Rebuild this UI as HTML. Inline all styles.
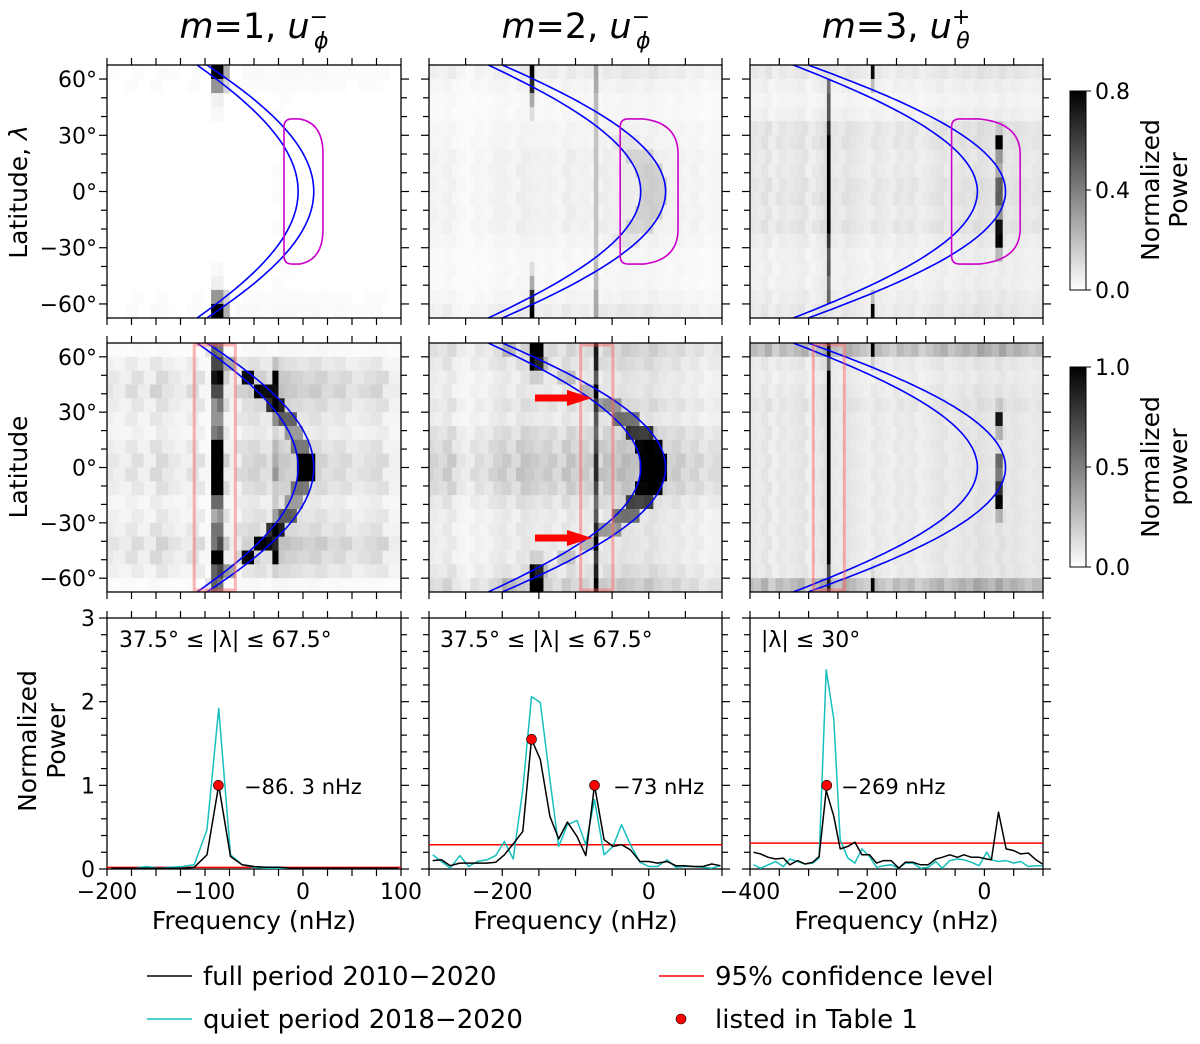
<!DOCTYPE html>
<html><head><meta charset="utf-8">
<style>
html,body{margin:0;padding:0;background:#fff;}
svg{display:block;font-family:"DejaVu Sans","Liberation Sans",sans-serif;}
</style></head>
<body>
<svg id="fig" width="1200" height="1044" viewBox="0 0 1200 1044" xmlns="http://www.w3.org/2000/svg">
</svg>
<script>
// ---------- data ----------
const latCenters = [63.75,56.25,48.75,41.25,33.75,26.25,18.75,11.25,3.75,-3.75,-11.25,-18.75,-26.25,-33.75,-41.25,-48.75,-56.25,-63.75];
const colBg1 = [0.15,0.1,0.2,0.1,0.25,0.15,0.1,0.2,0.05,0.3,0.1,0.25,0.3,0.2,0.35,0.3,0.25,0.3,0.2,0.25,0.15,0.2,0.25,0.1];
const colBg2 = [0.25,0.2,0.3,0.15,0.1,0.2,0.15,0.25,0.3,0.2,0.35,0.3,0.25,0.3,0.2,0.35,0.25,0.3,0.2,0.35,0.3,0.4,0.35,0.3,0.4,0.3,0.25,0.3,0.2,0.25,0.15,0.2];
const colBg3 = [0.3,0.25,0.35,0.2,0.3,0.25,0.3,0.35,0.2,0.3,0.4,0.3,0.25,0.35,0.3,0.25,0.2,0.3,0.25,0.2,0.3,0.25,0.3,0.2,0.25,0.3,0.35,0.25,0.3,0.35,0.3,0.4,0.35,0.3,0.4,0.3,0.35,0.3,0.25,0.3];

const rowBg_r1p1 = [0.08,0.05,0.03,0.03,0.03,0.03,0.03,0.03,0.03,0.03,0.03,0.03,0.03,0.03,0.03,0.03,0.05,0.08];
const stripe_r1p1_a = [1,0.4,0.05,0.02,0,0,0,0,0,0,0,0,0,0,0.02,0.05,0.4,1];
const stripe_r1p1_b = [0.3,0.15,0,0,0,0,0,0,0,0,0,0,0,0,0,0,0.15,0.3];
const ridge_r1p1 = [0,0,0,0,0,0,0,0,0,0,0,0,0,0,0,0,0,0];

const rowBg_r2p1 = [0.1,0.4,0.6,0.7,0.5,0.4,0.3,0.5,0.6,0.6,0.5,0.3,0.4,0.5,0.7,0.6,0.4,0.1];
const stripe_r2p1_a = [0.5,0.6,0.9,0.5,0.4,0.3,0.5,1,1,1,1,0.5,0.3,0.4,0.5,0.9,0.6,0.5];
const stripe_r2p1_b = [0,0.1,0.9,0.7,0.8,0.3,0.1,0.1,0.2,0.2,0.1,0.1,0.3,0.8,0.7,0.9,0.1,0];
const ridge_r2p1 = [0.1,0.3,0.8,0.8,0.7,0.5,0.3,0.4,0.9,0.9,0.4,0.3,0.5,0.7,0.8,0.8,0.3,0.1];

const rowBg_r1p2 = [0.25,0.15,0.1,0.1,0.15,0.15,0.2,0.2,0.2,0.2,0.2,0.2,0.15,0.1,0.1,0.1,0.15,0.25];
const stripe_r1p2_a = [1,0.8,0.3,0.1,0,0,0,0,0,0,0,0,0,0,0.1,0.3,0.8,1];
const stripe_r1p2_b = [0.3,0.3,0.25,0.25,0.2,0.2,0.2,0.2,0.2,0.2,0.2,0.2,0.2,0.2,0.25,0.25,0.3,0.3];
const ridge_r1p2 = [0,0,0,0,0,0.05,0.1,0.12,0.12,0.12,0.12,0.1,0.05,0,0,0,0,0];

const rowBg_r2p2 = [0.5,0.4,0.3,0.3,0.4,0.3,0.5,0.6,0.7,0.7,0.6,0.4,0.3,0.3,0.3,0.3,0.4,0.6];
const stripe_r2p2_a = [1,0.8,0.1,0,0,0,0,0,0,0,0,0,0,0,0,0.1,0.8,1];
const stripe_r2p2_b = [0.8,0.8,0.6,0.9,0.7,0.6,0.5,0.6,0.7,0.7,0.6,0.5,0.6,0.8,0.9,0.7,0.8,0.9];
const stripe_r2p2_c = [0.9,0.6,0.1,0,0,0,0,0,0,0,0,0,0,0,0,0.1,0.6,0.9];
const ridge_r2p2 = [0.15,0.15,0.15,0.2,0.3,0.45,0.6,0.8,0.9,0.9,0.8,0.6,0.45,0.3,0.2,0.15,0.15,0.15];

const rowBg_r1p3 = [0.3,0.2,0.15,0.2,0.35,0.35,0.3,0.3,0.35,0.35,0.3,0.35,0.25,0.2,0.2,0.2,0.25,0.3];
const stripe_r1p3_a = [0,0.5,0.6,0.6,0.7,1,1,1,1,1,1,1,0.7,0.6,0.6,0.5,0.5,0];
const stripe_r1p3_b = [0.9,0.2,0,0,0,0,0,0,0,0,0,0,0,0,0,0,0.2,0.9];
const stripe_r1p3_c = [0,0,0,0,0.1,0.9,0.3,0.2,0.5,0.5,0.3,0.8,0.9,0.2,0,0,0,0];
const ridge_r1p3 = [0,0,0,0,0,0,0,0,0,0,0,0,0,0,0,0,0,0];

const rowBg_r2p3 = [0.9,0.3,0.25,0.3,0.35,0.3,0.3,0.3,0.3,0.3,0.3,0.3,0.3,0.3,0.3,0.3,0.3,0.9];
const stripe_r2p3_a = [0.6,0.5,1,1,1,1,1,1,1,1,1,1,1,1,1,1,0.6,0.6];
const stripe_r2p3_b = [1,0.1,0,0,0,0,0,0,0,0,0,0,0,0,0,0,0.1,1];
const stripe_r2p3_c = [0,0,0,0,0.1,0.8,0.2,0,0.5,0.4,0.7,0.9,0.2,0,0,0,0,0];
const ridge_r2p3 = [0,0,0,0,0,0,0,0,0,0,0,0,0,0,0,0,0,0];

// curve params f = a + b*cos(lat)
const curveOuterA = [-165.7,-338,-510];
const curveOuterB = [176.7,361,546];
const curveInnerA = [-172,-348,-521];
const curveInnerB = [167,337,509];

// bottom spectra
const freqs1 = [-196,-184,-172,-160,-147,-135,-123,-111,-98,-86,-74,-62,-50,-37,-25,-13,-1,11,23,36,48,60,72,84,97];
const full1 = [0.01,0.01,0.01,0.01,0.01,0.01,0.01,0.02,0.17,1.0,0.15,0.05,0.03,0.02,0.02,0.01,0.01,0.01,0.01,0.01,0.01,0.01,0.01,0.01,0.01];
const quiet1 = [0.01,0.01,0.01,0.03,0.01,0.02,0.03,0.05,0.47,1.92,0.17,0.05,0.02,0.01,0.01,0.01,0.01,0.01,0.01,0.01,0.01,0.01,0.01,0.01,0.01];
const conf1 = 0.02;
const peaksF1 = [-86.3]; const peaksP1 = [1.0];

const freqs2 = [-295,-283,-271,-258,-246,-234,-221,-209,-197,-185,-172,-160,-148,-135,-123,-111,-98,-86,-74,-61,-49,-37,-25,-12,0,12,25,37,49,61,74,86,98];
const full2 = [0.10,0.11,0.04,0.07,0.07,0.07,0.07,0.08,0.17,0.30,0.45,1.55,1.31,0.63,0.36,0.56,0.39,0.16,1.0,0.35,0.27,0.29,0.23,0.09,0.09,0.07,0.09,0.04,0.04,0.03,0.03,0.06,0.04];
const quiet2 = [0.17,0.09,0.01,0.16,0.03,0.09,0.11,0.16,0.33,0.12,0.95,2.06,1.99,1.07,0.27,0.53,0.58,0.29,0.83,0.17,0.27,0.53,0.29,0.08,0.03,0.03,0.11,0.02,0.03,0.03,0.02,0.01,0.04];
const conf2 = 0.29;
const peaksF2 = [-160,-74]; const peaksP2 = [1.55,1.0];

const freqs3 = [-394,-382,-369,-356,-343,-332,-319,-306,-293,-282,-270,-257,-246,-233,-221,-209,-196,-184,-172,-159,-146,-135,-122,-109,-96,-83,-72,-59,-46,-35,-22,-9,4,12,24,37,50,62,75,88,99];
const full3 = [0.2,0.18,0.14,0.12,0.13,0.05,0.1,0.06,0.08,0.15,0.94,0.63,0.24,0.27,0.32,0.17,0.17,0.07,0.1,0.1,0.01,0.08,0.08,0.05,0.05,0.12,0.14,0.17,0.14,0.17,0.14,0.14,0.12,0.11,0.68,0.24,0.22,0.18,0.19,0.11,0.06];
const quiet3 = [0.05,0.01,0.05,0.09,0.03,0.12,0.09,0.06,0.07,0.13,2.38,1.79,0.35,0.13,0.07,0.24,0.15,0.02,0.04,0.05,0.01,0.07,0.07,0.01,0.02,0.09,0.01,0.1,0.12,0.11,0.08,0.04,0.2,0.11,0.09,0.1,0.07,0.09,0.03,0.04,0.04];
const conf3 = 0.31;
const peaksF3 = [-269]; const peaksP3 = [1.0];

// ---------- layout ----------
const NS = "http://www.w3.org/2000/svg";
const svg = document.getElementById('fig');
const cols = [{x0:107,x1:401,fmin:-200,fmax:100},{x0:429,x1:722,fmin:-300,fmax:100},{x0:750,x1:1043,fmin:-400,fmax:100}];
const rowsY = [{y0:65,y1:318},{y0:343,y1:592}];
const r3 = {y0:618,y1:869,vmax:3};
function el(tag, attrs, parent){const e=document.createElementNS(NS,tag);for(const k in attrs)e.setAttribute(k,attrs[k]);(parent||svg).appendChild(e);return e;}
function fx(p,f){return p.x0+(f-p.fmin)/(p.fmax-p.fmin)*(p.x1-p.x0);}
function ly(r,lat){return r.y0+(67.5-lat)/135*(r.y1-r.y0);}
function py(v){return r3.y1-v/r3.vmax*(r3.y1-r3.y0);}

// ---------- heatmaps ----------
const heatCfg = [
 [{bg:rowBg_r1p1,col:colBg1,stripes:[[-87,stripe_r1p1_a],[-80,stripe_r1p1_b]],ridge:ridge_r1p1},
  {bg:rowBg_r2p1,col:colBg1,stripes:[[-87,stripe_r2p1_a],[-30,stripe_r2p1_b]],ridge:ridge_r2p1}],
 [{bg:rowBg_r1p2,col:colBg2,stripes:[[-160,stripe_r1p2_a],[-74,stripe_r1p2_b]],ridge:ridge_r1p2},
  {bg:rowBg_r2p2,col:colBg2,stripes:[[-160,stripe_r2p2_a],[-150,stripe_r2p2_c],[-74,stripe_r2p2_b]],ridge:ridge_r2p2}],
 [{bg:rowBg_r1p3,col:colBg3,stripes:[[-265,stripe_r1p3_a],[-190,stripe_r1p3_b],[25,stripe_r1p3_c]],ridge:ridge_r1p3},
  {bg:rowBg_r2p3,col:colBg3,stripes:[[-265,stripe_r2p3_a],[-190,stripe_r2p3_b],[25,stripe_r2p3_c]],ridge:ridge_r2p3}]
];
const binW = 6.25;
for(let c=0;c<3;c++){
 const p=cols[c];
 for(let r=0;r<2;r++){
  const R=rowsY[r], cfg=heatCfg[c][r];
  const g=el('g',{});
  
  
  const nb=Math.round((p.fmax-p.fmin)/binW);
  for(let i=0;i<latCenters.length;i++){
   const lat=latCenters[i];
   const yt=ly(R,lat+3.75), yb=ly(R,lat-3.75);
   const fo=curveOuterA[c]+curveOuterB[c]*Math.cos(lat*Math.PI/180);
   const fi=curveInnerA[c]+curveInnerB[c]*Math.cos(lat*Math.PI/180);
   for(let j=0;j<nb;j++){
    const f0=p.fmin+j*binW, f1=f0+binW, fc=f0+binW/2;
    const cj=Math.min(cfg.col.length-1,(j+(i%2))>>1);
    let v=cfg.bg[i]*cfg.col[cj];
    for(const s of cfg.stripes){ if(Math.abs(fc-s[0])<=4) v+=s[1][i]; }
    if(fc>=fi-2 && fc<=fo) v+=cfg.ridge[i];
    v=Math.max(0,Math.min(1,v));
    if(v<0.01) continue;
    const gray=Math.round(255*(1-v));
    const rc=el('rect',{x:fx(p,f0),y:yt,width:fx(p,f1)-fx(p,f0)+0.3,height:yb-yt+0.3,fill:`rgb(${gray},${gray},${gray})`},g);
    
    
   }
  }
  for(const [A,B,nm] of [[curveOuterA[c],curveOuterB[c],'outer'],[curveInnerA[c],curveInnerB[c],'inner']]){
   let d='';
   for(let lat=-67.5;lat<=67.51;lat+=1.5){
    const f=A+B*Math.cos(lat*Math.PI/180);
    d+=(d?'L':'M')+fx(p,f).toFixed(1)+','+ly(R,lat).toFixed(1);
   }
   const pa=el('path',{d:d,fill:'none',stroke:'#0000ff','stroke-width':1.6});
   
   
  }
 }
}
const blobF0=[-19.4,-39,-56], blobF1=[20.4,40,61], blobLat=38.7;
for(let c=0;c<3;c++){
 const p=cols[c],R=rowsY[0];
 const x0=fx(p,blobF0[c]), x1=fx(p,blobF1[c]), y0=ly(R,blobLat), y1=ly(R,-blobLat);
 const w=x1-x0;
 const d=`M${x0},${y0+8} Q${x0},${y0} ${x0+8},${y0} L${x0+w*0.4},${y0} Q${x1},${y0+4} ${x1},${y0+35} L${x1},${y1-35} Q${x1},${y1-4} ${x0+w*0.4},${y1} L${x0+8},${y1} Q${x0},${y1} ${x0},${y1-8} Z`;
 const b=el('path',{d:d,fill:'none',stroke:'#cc00cc','stroke-width':1.6});
 
 
}
const boxF0=[-111,-93,-292], boxF1=[-69,-49,-239];
for(let c=0;c<3;c++){
 const p=cols[c],R=rowsY[1];
 const bx=el('rect',{x:fx(p,boxF0[c]),y:R.y0+2,width:fx(p,boxF1[c])-fx(p,boxF0[c]),height:R.y1-R.y0-4,fill:'none',stroke:'rgba(255,90,90,0.45)','stroke-width':3});
 
 
}
for(const ay of [398,538]){
 const a=el('polygon',{points:`535,${ay-3.5} 567,${ay-3.5} 567,${ay-8} 592,${ay} 567,${ay+8} 567,${ay+3.5} 535,${ay+3.5}`,fill:'#ff0000'});
 
 
}

// ---------- axes frames & ticks ----------
function tickLine(x1,y1,x2,y2){el('line',{x1:x1,y1:y1,x2:x2,y2:y2,stroke:'#000','stroke-width':1.2});}
const xStep=[25,50,50];
for(let c=0;c<3;c++){
 const p=cols[c];
 const allRows=[rowsY[0],rowsY[1],{y0:r3.y0,y1:r3.y1}];
 allRows.forEach((R,ri)=>{
  const fr=el('rect',{x:p.x0,y:R.y0,width:p.x1-p.x0,height:R.y1-R.y0,fill:'none',stroke:'#000','stroke-width':1.3});
  
  
  for(let f=Math.ceil(p.fmin/xStep[c])*xStep[c]; f<=p.fmax; f+=xStep[c]){
   const x=fx(p,f);
   tickLine(x,R.y0,x,R.y0-7); tickLine(x,R.y1,x,R.y1+7);
  }
  if(ri<2){
   for(let lat=-60;lat<=60;lat+=10){
    const y=ly(R,lat), L=(lat%30===0)?8:6;
    tickLine(p.x0,y,p.x0-L,y); tickLine(p.x1,y,p.x1+L,y);
    if(c===0 && lat%30===0){
     const t=el('text',{x:p.x0-10,y:y+8,'text-anchor':'end','font-size':22});
     t.textContent=(lat<0?'\u2212':'')+Math.abs(lat)+'\u00b0';
     
     
    }
   }
  } else {
   for(let k=0;k<=15;k++){
    const v=k*0.2, y=py(v), L=(k%5===0)?8:6;
    tickLine(p.x0,y,p.x0-L,y); tickLine(p.x1,y,p.x1+L,y);
    if(c===0 && k%5===0){
     const t=el('text',{x:p.x0-12,y:y+8,'text-anchor':'end','font-size':22});
     t.textContent=String(k/5);
     
     
    }
   }
  }
 });
}
const xLabels=[[-200,-100,0,100],[-200,0],[-400,-200,0]];
for(let c=0;c<3;c++){
 for(const f of xLabels[c]){
  const t=el('text',{x:fx(cols[c],f),y:899,'text-anchor':'middle','font-size':22});
  t.textContent=(f<0?'\u2212':'')+Math.abs(f);
  
  
 }
 const xl=el('text',{x:(cols[c].x0+cols[c].x1)/2,y:929,'text-anchor':'middle','font-size':25});
 xl.textContent='Frequency (nHz)';
 
 
}

// ---------- spectra ----------
const specs=[[freqs1,full1,quiet1,conf1,peaksF1,peaksP1],[freqs2,full2,quiet2,conf2,peaksF2,peaksP2],[freqs3,full3,quiet3,conf3,peaksF3,peaksP3]];
specs.forEach((s,c)=>{
 const p=cols[c];
 const cl=el('line',{x1:p.x0,x2:p.x1,y1:py(s[3]),y2:py(s[3]),stroke:'#ff0000','stroke-width':1.5});
 
 
 const mk=(arr,col,nm)=>{
  const d=s[0].map((f,i)=>(i?'L':'M')+fx(p,f).toFixed(1)+','+py(arr[i]).toFixed(1)).join('');
  const pa=el('path',{d:d,fill:'none',stroke:col,'stroke-width':1.5,'stroke-linejoin':'round'});
  
  
 };
 mk(s[2],'#17bfbf','quiet-period-line');
 mk(s[1],'#000000','full-period-line');
 s[4].forEach((f,i)=>{
  const ci=el('circle',{cx:fx(p,f),cy:py(s[5][i]),r:5,fill:'#ff0000',stroke:'#000','stroke-width':0.6});
  
  
 });
});
</script>
<svg style="position:absolute;left:0;top:0" width="1200" height="1044" xmlns="http://www.w3.org/2000/svg" font-family="DejaVu Sans, Liberation Sans, sans-serif">
 <defs>
  <linearGradient id="cb" x1="0" y1="1" x2="0" y2="0"><stop offset="0" stop-color="#fff"/><stop offset="1" stop-color="#000"/></linearGradient>
 </defs>
 <text x="254" y="38" text-anchor="middle" font-size="35"><tspan font-style="italic">m</tspan>=1, <tspan font-style="italic">u</tspan><tspan font-size="22" dy="-14">−</tspan><tspan font-size="22" dx="-14" dy="24" font-style="italic">ϕ</tspan></text>
 <text x="576" y="38" text-anchor="middle" font-size="35"><tspan font-style="italic">m</tspan>=2, <tspan font-style="italic">u</tspan><tspan font-size="22" dy="-14">−</tspan><tspan font-size="22" dx="-14" dy="24" font-style="italic">ϕ</tspan></text>
 <text x="896" y="38" text-anchor="middle" font-size="35"><tspan font-style="italic">m</tspan>=3, <tspan font-style="italic">u</tspan><tspan font-size="22" dy="-14">+</tspan><tspan font-size="22" dx="-14" dy="24" font-style="italic">θ</tspan></text>
 <text transform="translate(27,192) rotate(-90)" text-anchor="middle" font-size="25">Latitude, <tspan font-style="italic">λ</tspan></text>
 <text transform="translate(27,467) rotate(-90)" text-anchor="middle" font-size="25">Latitude</text>
 <text transform="translate(40,741) rotate(-90)" text-anchor="middle" font-size="25"><tspan x="0" dy="-4">Normalized</tspan><tspan x="0" dy="29">Power</tspan></text>
 <rect x="1070" y="91" width="16" height="199" fill="url(#cb)" stroke="#000" stroke-width="1"/>
 <line x1="1086" y1="91" x2="1091" y2="91" stroke="#000"/><line x1="1086" y1="190" x2="1091" y2="190" stroke="#000"/><line x1="1086" y1="290" x2="1091" y2="290" stroke="#000"/>
 <text x="1095" y="99" font-size="22">0.8</text>
 <text x="1095" y="198" font-size="22">0.4</text>
 <text x="1095" y="298" font-size="22">0.0</text>
 <text transform="translate(1159,190) rotate(-90)" text-anchor="middle" font-size="25"><tspan x="0" dy="0">Normalized</tspan><tspan x="0" dy="28">Power</tspan></text>
 <rect x="1070" y="367" width="16" height="200" fill="url(#cb)" stroke="#000" stroke-width="1"/>
 <line x1="1086" y1="367" x2="1091" y2="367" stroke="#000"/><line x1="1086" y1="467" x2="1091" y2="467" stroke="#000"/><line x1="1086" y1="567" x2="1091" y2="567" stroke="#000"/>
 <text x="1095" y="375" font-size="22">1.0</text>
 <text x="1095" y="475" font-size="22">0.5</text>
 <text x="1095" y="575" font-size="22">0.0</text>
 <text transform="translate(1159,467) rotate(-90)" text-anchor="middle" font-size="25"><tspan x="0" dy="0">Normalized</tspan><tspan x="0" dy="28">power</tspan></text>
 <text x="119" y="647" font-size="22" xml:space="preserve">37.5° ≤ |λ| ≤ 67.5°</text>
 <text x="440" y="647" font-size="22" xml:space="preserve">37.5° ≤ |λ| ≤ 67.5°</text>
 <text x="761" y="647" font-size="22">|λ| ≤ 30°</text>
 <text x="244" y="794" font-size="21">−86. 3 nHz</text>
 <text x="613" y="794" font-size="21">−73 nHz</text>
 <text x="841" y="794" font-size="21">−269 nHz</text>
 <g>
  <line x1="147" y1="976" x2="192" y2="976" stroke="#000" stroke-width="1.5"/>
  <text x="203" y="985" font-size="26">full period 2010−2020</text>
  <line x1="147" y1="1019" x2="192" y2="1019" stroke="#17bfbf" stroke-width="1.5"/>
  <text x="203" y="1028" font-size="26">quiet period 2018−2020</text>
  <line x1="659" y1="976" x2="704" y2="976" stroke="#ff0000" stroke-width="1.5"/>
  <text x="715" y="985" font-size="26">95% confidence level</text>
  <circle cx="681" cy="1019" r="5" fill="#ff0000" stroke="#000" stroke-width="0.6"/>
  <text x="715" y="1028" font-size="26">listed in Table 1</text>
 </g>
</svg>
</body></html>
